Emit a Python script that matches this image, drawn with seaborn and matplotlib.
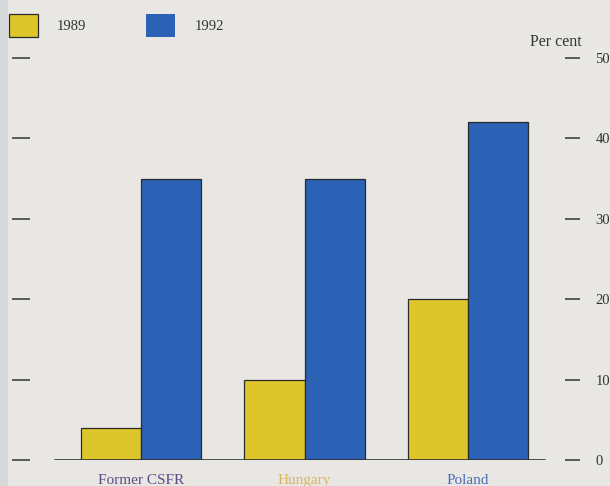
import matplotlib
matplotlib.use("Agg")
import matplotlib.pyplot as plt
import matplotlib.patches as mpatches
import pandas as pd
import seaborn as sns

# Data (per cent)
countries = ["Former CSFR", "Hungary", "Poland"]
years = ["1989", "1992"]
values_1989 = [4, 10, 20]
values_1992 = [35, 35, 42]
y_ticks = [0, 10, 20, 30, 40, 50]
country_colors = ["#5a4d86", "#d9b660", "#4b6db4"]

df = pd.DataFrame({
    "country": countries * 2,
    "year": [years[0]] * 3 + [years[1]] * 3,
    "value": values_1989 + values_1992,
})

sns.set_theme(style="white")
plt.rcParams["font.family"] = ["Liberation Serif", "DejaVu Serif"]

W, H, DPI = 610, 486, 100
bg = "#e8e7e4"
fig = plt.figure(figsize=(W / DPI, H / DPI), dpi=DPI, facecolor=bg)

# left grey strip of the page
fig.patches.append(mpatches.Rectangle((0, 0), 8 / W, 1, transform=fig.transFigure,
                                      facecolor="#d6d9d9", edgecolor="none", zorder=0))

# axes geometry in pixels
ax_l, ax_r = 30, 565
ax_b, ax_t = 460, 58
ax = fig.add_axes([ax_l / W, (H - ax_b) / H, (ax_r - ax_l) / W, (ax_b - ax_t) / H])
ax.set_facecolor("none")

# second axis only carries the unlabelled left-hand ticks
ax2 = ax.twinx()

palette = {"1989": "#ddc62c", "1992": "#2c62b6"}
sns.barplot(data=df, x="country", y="value", hue="year", palette=palette,
            width=0.734, edgecolor="#2a2a2a", linewidth=0.9, saturation=1,
            ax=ax, zorder=3)

# category spacing 163.5 px, first centre at 141 px
step = 163.5
ax.set_xlim(-(141 - ax_l) / step, 2 + (ax_r - 468) / step)
ax.set_ylim(0, 50)
ax2.set_ylim(0, 50)

for a in (ax, ax2):
    for s in a.spines.values():
        s.set_visible(False)

# baseline
ax.axhline(0, xmin=(55 - ax_l) / (ax_r - ax_l), xmax=(545 - ax_l) / (ax_r - ax_l),
           color="#333333", lw=1.2, zorder=4)

# right-hand ticks with labels
ax.yaxis.set_ticks_position("right")
ax.yaxis.set_label_position("right")
ax.set_yticks(y_ticks)
ax.set_yticklabels([str(v) for v in y_ticks])
ax.tick_params(axis="y", which="major", right=True, left=False, direction="out",
               length=10.8, width=1.1, color="#333333", pad=11,
               labelsize=10.5, labelcolor="#333333", labelright=True, labelleft=False)

# left-hand ticks without labels
ax2.yaxis.set_ticks_position("left")
ax2.set_yticks(y_ticks)
ax2.tick_params(axis="y", left=True, right=False, direction="out", length=13,
                width=1.1, color="#333333", labelleft=False, labelright=False)

# category labels
ax.set_xlabel("")
ax.set_ylabel("")
ax2.set_ylabel("")
ax.tick_params(axis="x", length=0, pad=10, labelsize=11)
for lab, c in zip(ax.get_xticklabels(), country_colors):
    lab.set_color(c)

fig.text(582 / W, 1 - 42 / H, "Per cent", ha="right", va="center",
         fontsize=11.5, color="#333333")

sns.move_legend(ax, loc="upper left", bbox_to_anchor=(9 / W, 1 - 14 / H),
                bbox_transform=fig.transFigure, ncol=2, frameon=False, title=None,
                handlelength=2.0, handleheight=2.0, handletextpad=1.3,
                columnspacing=4.1, borderpad=0, borderaxespad=0, fontsize=10.5)
leg = ax.get_legend()
for t in leg.get_texts():
    t.set_color("#333333")
leg.legend_handles[1].set_edgecolor("none")

fig.savefig("out.png", dpi=DPI, facecolor=bg)
